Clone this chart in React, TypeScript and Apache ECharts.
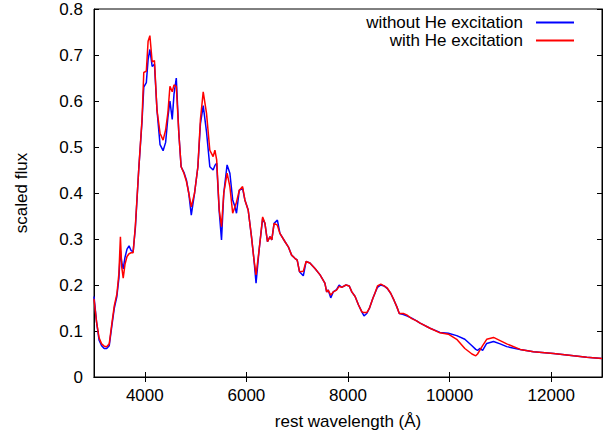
import React, { useEffect, useRef } from "react";
import * as echarts from "echarts";

const wavelength = [
  3000, 3050, 3100, 3150, 3200, 3250, 3300, 3350, 3400, 3450, 3490, 3520, 3545, 3575, 3610, 3650, 3690, 3730, 3770, 3815,
  3880, 3945, 3980, 4030, 4065, 4100, 4145, 4190, 4240, 4300, 4360, 4410, 4455, 4495, 4540, 4575, 4620, 4670, 4715, 4770,
  4820, 4865, 4915, 4980, 5045, 5095, 5150, 5215, 5280, 5345, 5380, 5415, 5465, 5510, 5555, 5620, 5675, 5730, 5775, 5805,
  5860, 5925, 5970, 6035, 6100, 6150, 6190, 6250, 6320, 6365, 6415, 6465, 6500, 6545, 6610, 6660, 6760, 6825, 6890, 6955,
  7000, 7045, 7120, 7175, 7250, 7350, 7450, 7545, 7580, 7610, 7660, 7710, 7775, 7825, 7875, 7960, 8025, 8075, 8140, 8205,
  8270, 8315, 8370, 8420, 8490, 8530, 8580, 8645, 8710, 8775, 8840, 8905, 8960, 9010, 9090, 9155, 9255, 9350, 9420, 9615,
  9810, 9975, 10140, 10300, 10440, 10515, 10550, 10600, 10650, 10730, 10865, 10995, 11125, 11390, 11650, 12045, 12440, 12700, 13000,
];

const fluxWithoutHe = [
  0.175, 0.12, 0.08, 0.068, 0.062, 0.062, 0.068, 0.11, 0.15, 0.175, 0.215, 0.275, 0.25, 0.235, 0.26, 0.278, 0.285, 0.275, 0.272, 0.325,
  0.45, 0.555, 0.63, 0.64, 0.69, 0.712, 0.675, 0.68, 0.58, 0.505, 0.492, 0.51, 0.565, 0.6, 0.56, 0.615, 0.65, 0.53, 0.457, 0.445,
  0.428, 0.4, 0.352, 0.4, 0.457, 0.55, 0.59, 0.533, 0.457, 0.45, 0.46, 0.465, 0.36, 0.298, 0.4, 0.461, 0.443, 0.385, 0.37, 0.356,
  0.406, 0.41, 0.385, 0.363, 0.305, 0.254, 0.204, 0.276, 0.345, 0.334, 0.294, 0.305, 0.298, 0.334, 0.341, 0.312, 0.294, 0.283, 0.265, 0.258,
  0.254, 0.229, 0.22, 0.251, 0.248, 0.236, 0.222, 0.204, 0.185, 0.189, 0.172, 0.185, 0.19, 0.2, 0.195, 0.2, 0.198, 0.185, 0.175, 0.157,
  0.142, 0.133, 0.138, 0.149, 0.171, 0.182, 0.195, 0.2, 0.198, 0.192, 0.182, 0.167, 0.153, 0.138, 0.136, 0.133, 0.128, 0.122, 0.117, 0.106,
  0.097, 0.095, 0.09, 0.082, 0.068, 0.06, 0.058, 0.062, 0.058, 0.073, 0.077, 0.072, 0.066, 0.06, 0.055, 0.051, 0.046, 0.043, 0.04,
];

const fluxWithHe = [
  0.17, 0.12, 0.085, 0.072, 0.067, 0.066, 0.072, 0.115, 0.155, 0.18, 0.225, 0.305, 0.24, 0.215, 0.245, 0.262, 0.268, 0.27, 0.27, 0.33,
  0.45, 0.56, 0.662, 0.665, 0.73, 0.742, 0.685, 0.688, 0.58, 0.53, 0.515, 0.537, 0.575, 0.632, 0.62, 0.635, 0.632, 0.53, 0.457, 0.443,
  0.425, 0.4, 0.37, 0.4, 0.457, 0.56, 0.62, 0.573, 0.493, 0.479, 0.493, 0.472, 0.363, 0.327, 0.4, 0.443, 0.414, 0.356, 0.37, 0.38,
  0.406, 0.414, 0.385, 0.363, 0.305, 0.254, 0.222, 0.276, 0.348, 0.334, 0.294, 0.305, 0.298, 0.334, 0.33, 0.312, 0.294, 0.283, 0.265, 0.258,
  0.254, 0.229, 0.23, 0.251, 0.248, 0.236, 0.222, 0.204, 0.185, 0.189, 0.178, 0.185, 0.189, 0.197, 0.195, 0.2, 0.198, 0.185, 0.175, 0.157,
  0.142, 0.14, 0.14, 0.149, 0.171, 0.182, 0.198, 0.202, 0.198, 0.193, 0.182, 0.167, 0.153, 0.138, 0.138, 0.135, 0.127, 0.122, 0.117, 0.106,
  0.096, 0.093, 0.082, 0.062, 0.05, 0.046, 0.05, 0.059, 0.068, 0.082, 0.086, 0.079, 0.072, 0.06, 0.055, 0.051, 0.046, 0.043, 0.04,
];

const xTicks = [4000, 6000, 8000, 10000, 12000];
const seriesNames = ["without He excitation", "with He excitation"];

const FONT = "'Liberation Sans', Arial, Helvetica, sans-serif";

export default function App() {
  const ref = useRef<HTMLDivElement>(null);
  useEffect(() => {
    if (!ref.current) return;
    const chart = echarts.init(ref.current, undefined, { renderer: "svg" });
    const pairs = (ys: number[]) => wavelength.map((w, i) => [w, ys[i]]);
    const xCommon = {
      type: "value" as const,
      min: 3000,
      max: 13000,
      axisLine: { show: true, lineStyle: { color: "#000", width: 1 } },
      splitLine: { show: false },
      axisTick: { show: true, inside: true, length: 5, customValues: xTicks, lineStyle: { color: "#000" } },
    };
    const yCommon = {
      type: "value" as const,
      min: 0,
      max: 0.8,
      interval: 0.1,
      axisLine: { show: true, lineStyle: { color: "#000", width: 1 } },
      splitLine: { show: false },
      axisTick: { show: true, inside: true, length: 5, lineStyle: { color: "#000" } },
    };
    chart.setOption({
      animation: false,
      textStyle: { fontFamily: FONT },
      grid: { left: 94, right: 3, top: 9, bottom: 59, show: true, borderColor: "#000", borderWidth: 1 },
      legend: {
        orient: "vertical",
        right: 31,
        top: 14,
        align: "right",
        itemWidth: 38,
        itemHeight: 2,
        itemGap: 1,
        padding: 0,
        icon: "rect",
        data: seriesNames,
        textStyle: { fontSize: 17, color: "#000", fontFamily: FONT, padding: [0, 8, 0, 0] },
      },
      xAxis: [
        {
          ...xCommon,
          position: "bottom",
          name: "rest wavelength (Å)",
          nameLocation: "middle",
          nameGap: 36,
          nameTextStyle: { fontSize: 17, color: "#000", fontFamily: FONT },
          axisLabel: {
            show: true,
            customValues: xTicks,
            fontSize: 17,
            color: "#000",
            margin: 10,
            fontFamily: FONT,
            formatter: (v: number) => String(v),
          },
        },
        { ...xCommon, position: "top", axisLabel: { show: false } },
      ],
      yAxis: [
        {
          ...yCommon,
          position: "left",
          name: "scaled flux",
          nameLocation: "middle",
          nameGap: 64,
          nameRotate: 90,
          nameTextStyle: { fontSize: 17, color: "#000", fontFamily: FONT },
          axisLabel: {
            show: true,
            fontSize: 17,
            color: "#000",
            margin: 11,
            fontFamily: FONT,
            formatter: (v: number) => (v === 0 ? "0" : v.toFixed(1)),
          },
        },
        { ...yCommon, position: "right", axisLabel: { show: false } },
      ],
      series: [
        {
          name: seriesNames[0],
          type: "line",
          data: pairs(fluxWithoutHe),
          symbol: "none",
          lineStyle: { color: "#0000ff", width: 1.5 },
          itemStyle: { color: "#0000ff" },
        },
        {
          name: seriesNames[1],
          type: "line",
          data: pairs(fluxWithHe),
          symbol: "none",
          lineStyle: { color: "#ff0000", width: 1.5 },
          itemStyle: { color: "#ff0000" },
        },
      ],
    });
    return () => chart.dispose();
  }, []);
  return <div ref={ref} style={{ width: 605, height: 436, position: "fixed", left: 0, top: 0, background: "#fff" }} />;
}
